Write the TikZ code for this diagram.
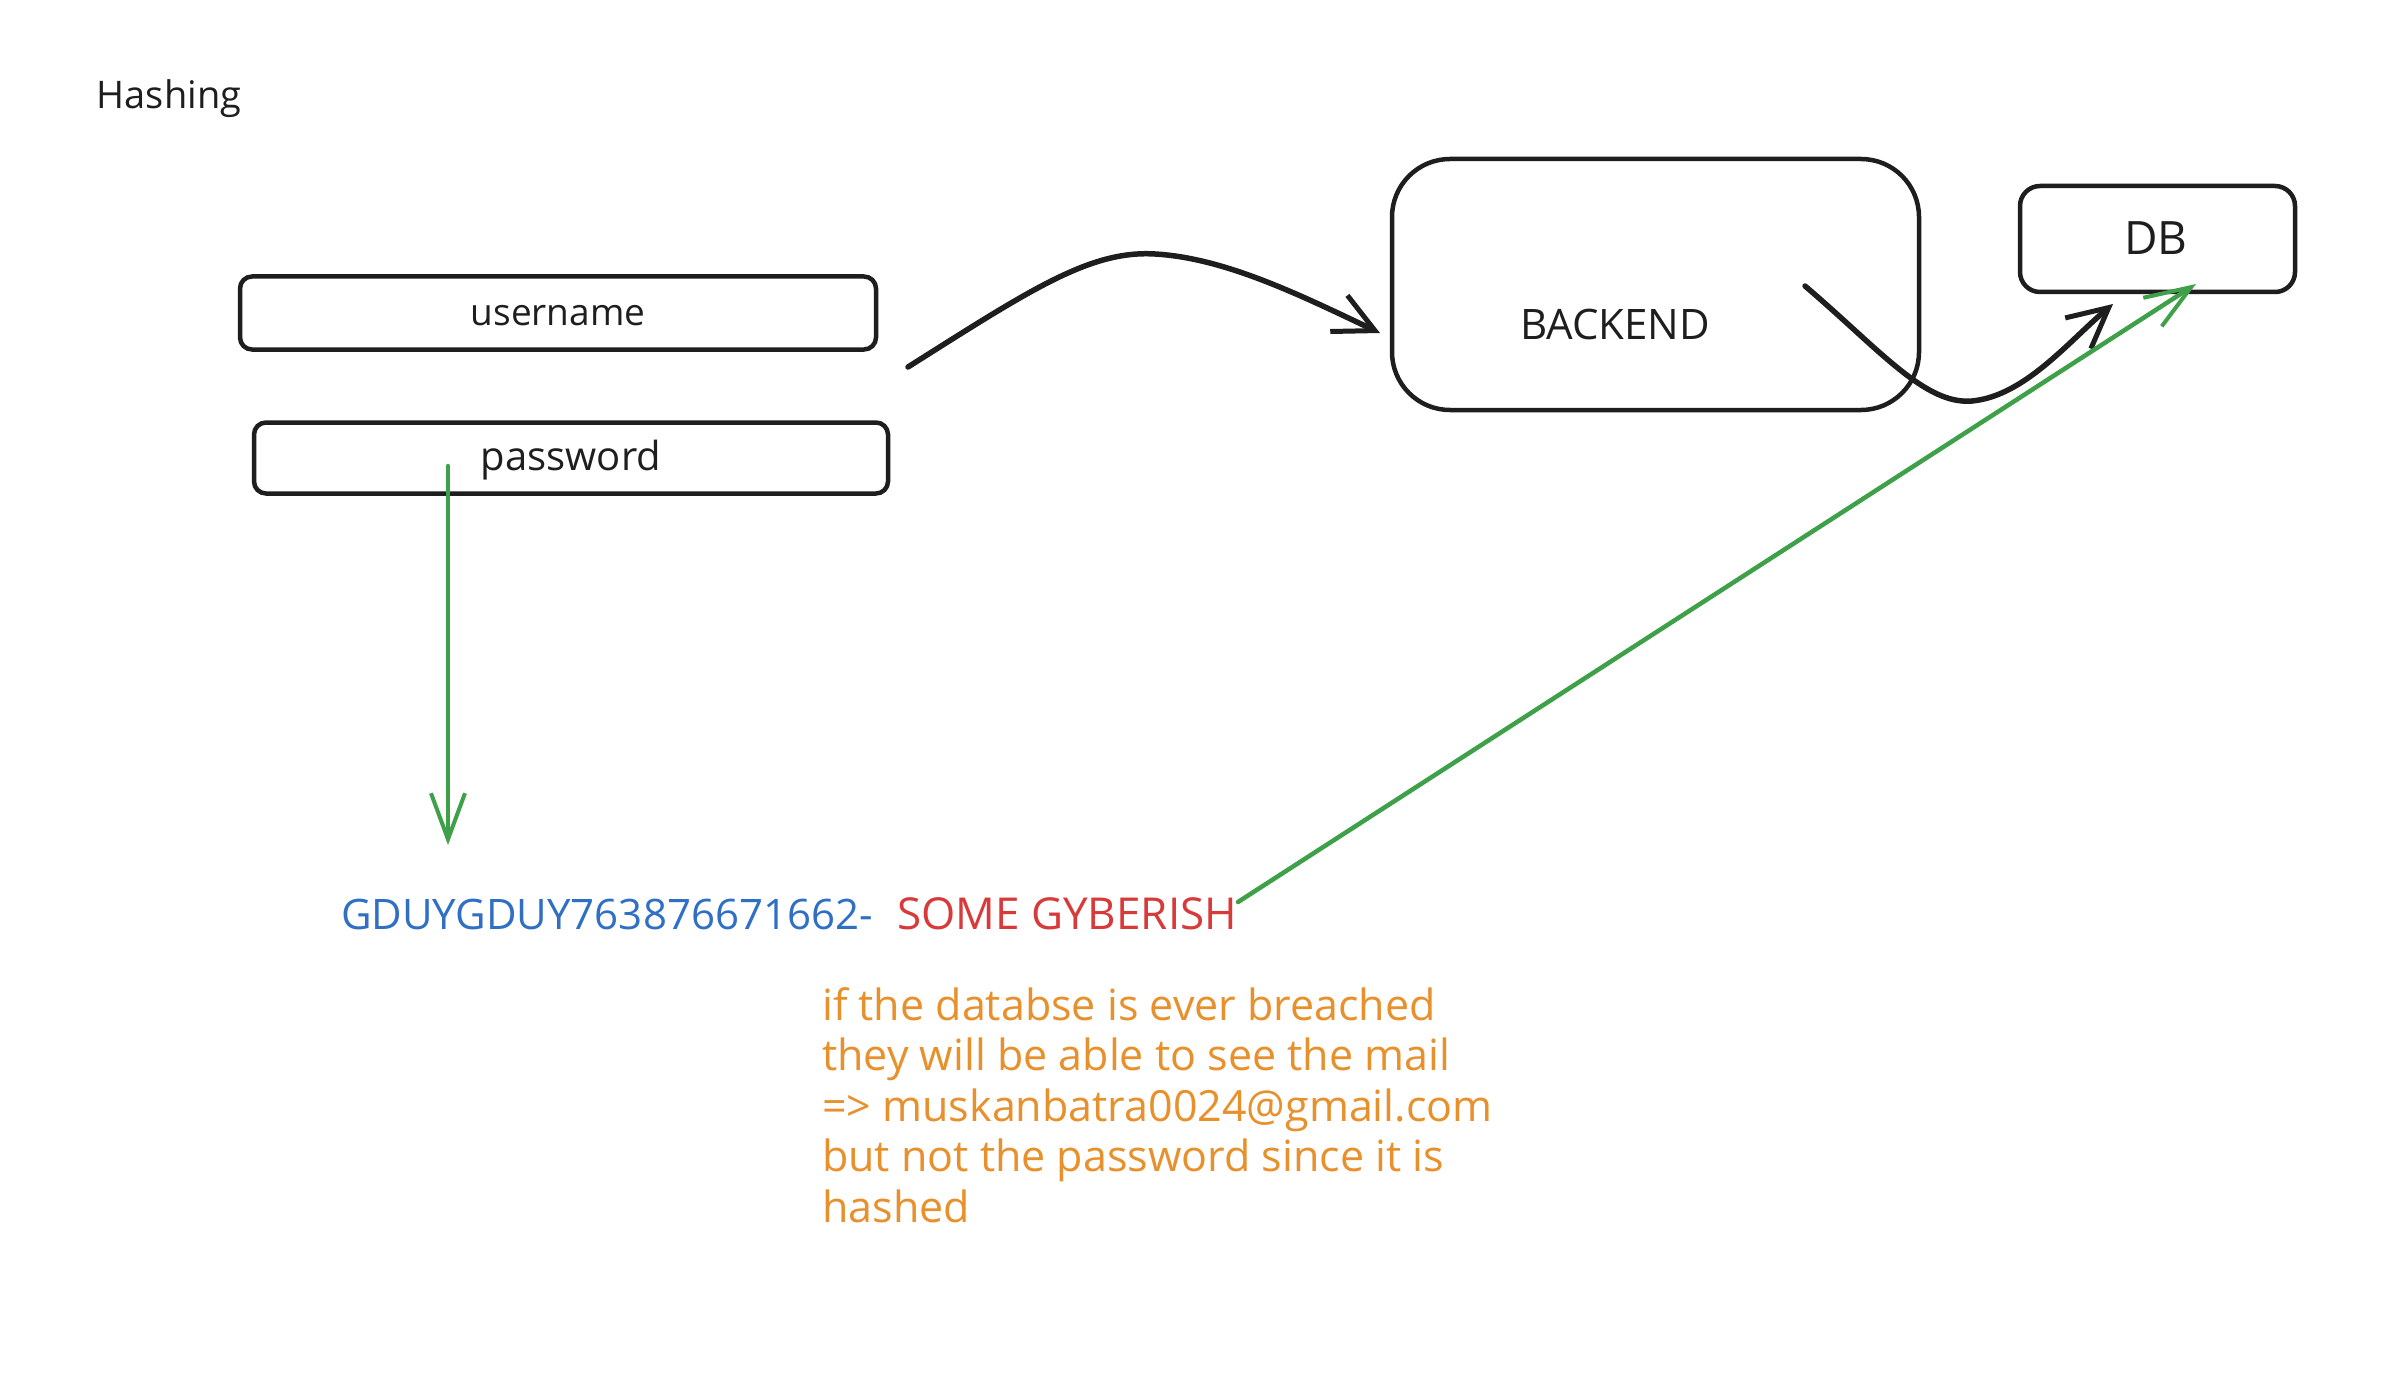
\documentclass[tikz,border=0pt]{standalone}
\usepackage{fontspec}
\setmainfont{Open Sans}
\usetikzlibrary{arrows.meta}
\definecolor{ink}{HTML}{1E1E1E}
\definecolor{grn}{HTML}{3FA04A}
\definecolor{blu}{HTML}{2F6FC4}
\definecolor{rd}{HTML}{D83A3A}
\definecolor{org}{HTML}{E8912C}
\tikzset{
  field/.style={draw=ink, line width=4.5pt, rounded corners=12pt, inner sep=0pt},
  bigbox/.style={draw=ink, line width=4.5pt, rounded corners=58pt, inner sep=0pt},
  smallbox/.style={draw=ink, line width=4.5pt, rounded corners=20pt, inner sep=0pt},
  lbl/.style={text=ink, inner sep=0pt, font=\fontsize{36}{42}\selectfont},
  blackarrow/.style={draw=ink, line width=5.5pt, line cap=round, -{Straight Barb[length=40pt,width=40pt,line width=5pt]}},
  greenarrow/.style={draw=grn, line width=4.5pt, line cap=round, -{Straight Barb[length=46pt,width=34pt,line width=4pt]}}
}
\begin{document}
\begin{tikzpicture}[x=1pt,y=-1pt]
\useasboundingbox[fill=white] (0,0) rectangle (2396,1388);
% title
\node[lbl, font=\fontsize{38}{44}\selectfont] (title) at (169,99) {Hashing};
% input fields
\node[field, minimum width=636pt, minimum height=73pt] (user) at (558,313) {};
\node[lbl, font=\fontsize{37}{44}\selectfont] (usertxt) at (558,316) {username};
\node[field, minimum width=634pt, minimum height=71pt] (pass) at (571,458) {};
\node[lbl, font=\fontsize{40}{46}\selectfont] (passtxt) at (571,460) {password};
% backend and db
\node[bigbox, minimum width=527pt, minimum height=251pt] (backend) at (1655.5,284.5) {};
\node[lbl, font=\fontsize{42}{48}\selectfont] (backendtxt) at (1615,324) {BACKEND};
\node[smallbox, minimum width=275pt, minimum height=106pt] (db) at (2157.5,239) {};
\node[lbl, font=\fontsize{46}{52}\selectfont] (dbtxt) at (2156,238) {DB};
% hash text
\node[inner sep=0pt, anchor=west, text=blu, font=\fontsize{42}{48}\selectfont] (hash) at (341,914) {GDUYGDUY763876671662-};
\node[inner sep=0pt, anchor=west, text=rd, font=\fontsize{44}{50}\selectfont] (gib) at (897,914) {SOME GYBERISH};
% note
\node[inner sep=0pt, anchor=north west, align=left, text=org, font=\fontsize{43}{50.5}\selectfont] (note) at (822,987)
{if the databse is ever breached\\they will be able to see the mail\\=> muskanbatra0024@gmail.com\\but not the password since it is\\hashed};
% connector endpoints
\coordinate (a1s) at (908,367);
\coordinate (a1e) at (1380,333);
\coordinate (a2s) at (1805,286);
\coordinate (a2e) at (2113,304);
\coordinate (g1s) at (448,466);
\coordinate (g1e) at (448,845);
\coordinate (g2s) at (1238,902);
\coordinate (g2e) at (2196,284);
% connectors
\draw[blackarrow] (a1s) .. controls (1030,290) and (1090,250) .. (1155,254) .. controls (1225,258) and (1300,295) .. (a1e);
\draw[blackarrow] (a2s) .. controls (1880,350) and (1925,405) .. (1972,401) .. controls (2025,396) and (2070,340) .. (a2e);
\draw[greenarrow] (g1s) -- (g1e);
\draw[greenarrow] (g2s) -- (g2e);
\end{tikzpicture}
\end{document}
